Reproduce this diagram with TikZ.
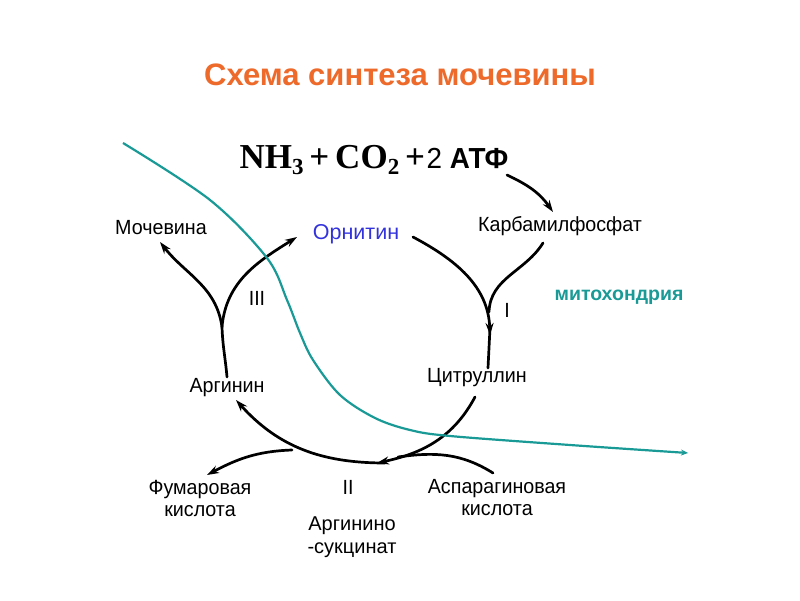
\documentclass[tikz,border=0pt]{standalone}
\usepackage{fontspec}
\setmainfont{Liberation Sans}
\newfontfamily\narrowfont[FakeStretch=0.96]{Liberation Sans}
\newfontfamily\formfont{Liberation Serif}
\usetikzlibrary{arrows.meta}
\definecolor{titleor}{HTML}{EE6A2B}
\definecolor{tealc}{HTML}{1A9A96}
\definecolor{ornblue}{HTML}{3333DD}
\newcommand{\subidx}[1]{\raisebox{-0.35ex}{\fontsize{23}{23}\selectfont #1}}
\begin{document}
\begin{tikzpicture}[x=1pt,y=1pt,
  lbl/.style={font=\narrowfont\fontsize{20.5}{22}\selectfont, inner sep=0pt, align=center},
  sanslbl/.style={font=\fontsize{20}{23}\selectfont, inner sep=0pt, align=center},
  cyc/.style={line width=2.7pt, line cap=round},
  tip/.style={-{Stealth[length=12pt,width=8pt]}}]
\useasboundingbox (0,0) rectangle (800,600);
\fill[white] (0,0) rectangle (800,600);

% texts
\node[font=\bfseries\fontsize{31}{34}\selectfont, text=titleor] (title) at (400,525) {Схема синтеза мочевины};
\node[inner sep=0pt] (nh3) at (374,440) {{\formfont\bfseries\fontsize{35}{36}\selectfont NH\subidx{3}\,+\,CO\subidx{2}\,+}\,{\narrowfont\fontsize{29}{30}\selectfont 2 \bfseries АТФ}};
\node[lbl] (karb) at (560,374) {Карбамилфосфат};
\node[lbl] (moch) at (161,372) {Мочевина};
\node[font=\fontsize{21.5}{24}\selectfont, text=ornblue, inner sep=0pt] (orn) at (356,366) {Орнитин};
\node[font=\bfseries\fontsize{19.5}{22}\selectfont, text=tealc, inner sep=0pt] (mito) at (619,303) {митохондрия};
\node[lbl] (cit) at (477,222) {Цитруллин};
\node[lbl] (arg) at (227,212) {Аргинин};
\node[lbl] (fum) at (200,102) {Фумаровая\\кислота};
\node[lbl] (asp) at (497,102) {Аспарагиновая\\кислота};
\node[lbl] (r1) at (507,290) {I};
\node[lbl] (r2) at (348,113) {II};
\node[lbl] (r3) at (257,302) {III};
\node[sanslbl] (argsuc) at (352,63) {Аргинино\\-сукцинат};

% coordinates
\coordinate (atfS) at (507,425);
\coordinate (atfE) at (553,388);
\coordinate (ornE) at (413,363);
\coordinate (citTip) at (490,265);
\coordinate (citT) at (488,232);
\coordinate (karbS) at (543,357);
\coordinate (karbM) at (489,288);
\coordinate (citB) at (475,203);
\coordinate (bottomTip) at (377,137);
\coordinate (aspS) at (493,127);
\coordinate (aspM) at (398,143);
\coordinate (arcS) at (385,137);
\coordinate (argTip) at (236,200);
\coordinate (fumS) at (292,150);
\coordinate (fumE) at (207,125);
\coordinate (argT) at (227,223);
\coordinate (split) at (222,273);
\coordinate (ornW) at (297,363);
\coordinate (mochS) at (160,358);

% connectors
\draw[cyc, tip] (atfS) to[out=-25, in=125] (atfE);
\draw[cyc, tip] (ornE) to[out=-28, in=92] (citTip);
\draw[cyc] (490,272) -- (citT);
\draw[cyc] (karbS) to[out=-122, in=88] (karbM);
\draw[cyc, tip] (citB) to[out=-118, in=12] (bottomTip);
\draw[cyc] (aspS) to[out=148, in=8] (aspM);
\draw[cyc, tip] (arcS) to[out=180, in=-48] (argTip);
\draw[cyc, tip] (fumS) to[out=182, in=28] (fumE);
\draw[cyc] (argT) to[out=95, in=-88] (split);
\draw[cyc, tip] (split) to[out=85, in=-148] (ornW);
\draw[cyc, tip] (split) to[out=98, in=-52] (mochS);

% membrane
\draw[tealc, line width=2.2pt, -{Stealth[length=7pt,width=6pt]}] plot[smooth, tension=0.55] coordinates {(123,457) (210,400) (267,342) (287,300) (300,267) (313,240) (340,205) (375,182) (410,170) (450,164) (570,155) (688,147)};
\end{tikzpicture}
\end{document}
